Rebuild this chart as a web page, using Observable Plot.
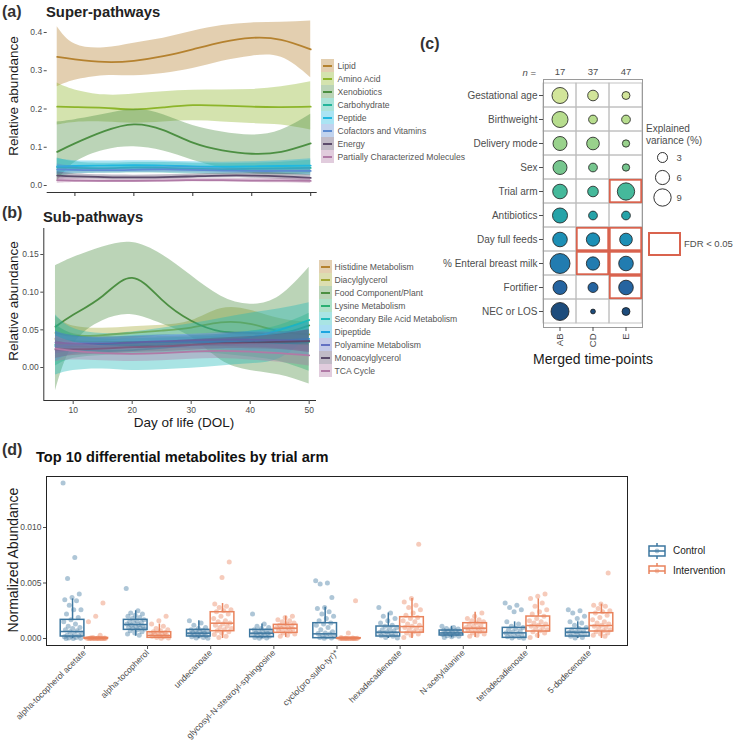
<!DOCTYPE html>
<html><head><meta charset="utf-8">
<script src="https://cdn.jsdelivr.net/npm/d3@7"></script>
<script src="https://cdn.jsdelivr.net/npm/@observablehq/plot@0.6"></script>
<style>
body{margin:0;background:#fff;}
#fig{position:relative;width:735px;height:753px;overflow:hidden;font-family:"Liberation Sans",Arial,Helvetica,sans-serif;background:#fff;}
#fig svg{position:absolute;left:0;top:0;}
.t{position:absolute;white-space:nowrap;line-height:1;}
</style></head><body><div id="fig"></div><script>
// ---------- DATA ----------
const dol = [7,10,15,20,25,30,35,40,45,50];
const dolTicks = [10,20,30,40,50];

const superNames = ["Lipid","Amino Acid","Xenobiotics","Carbohydrate","Peptide","Cofactors and Vitamins","Energy","Partially Characterized Molecules"];
const superColors = ["#B5822F","#8DB52A","#4C8F42","#23B59B","#20B8E0","#5B8BD2","#5B4B6B","#B07AA6"];
const superMean = [
 [.336,.330,.323,.326,.338,.356,.375,.386,.381,.356],
 [.206,.205,.203,.199,.204,.210,.209,.206,.205,.206],
 [.088,.110,.142,.160,.145,.112,.092,.083,.088,.110],
 [.048,.046,.045,.047,.046,.044,.043,.044,.045,.046],
 [.050,.051,.052,.053,.052,.050,.049,.050,.051,.052],
 [.042,.041,.040,.041,.042,.041,.039,.038,.038,.038],
 [.026,.024,.022,.021,.022,.024,.026,.026,.024,.020],
 [.014,.013,.012,.012,.013,.014,.014,.013,.013,.012]];
const superLo = [
 [.258,.275,.287,.287,.293,.306,.325,.338,.335,.282],
 [.158,.165,.166,.163,.166,.169,.166,.162,.158,.145],
 [.010,.060,.092,.101,.090,.066,.045,.031,.028,.031],
 [.022,.030,.032,.033,.032,.030,.029,.030,.029,.026],
 [.030,.037,.040,.041,.040,.038,.037,.038,.037,.034],
 [.028,.032,.033,.034,.034,.033,.032,.031,.030,.028],
 [.016,.017,.016,.015,.016,.018,.020,.019,.016,.012],
 [.006,.008,.008,.008,.009,.010,.009,.008,.007,.005]];
const superHi = [
 [.415,.370,.360,.372,.385,.403,.418,.425,.427,.430],
 [.268,.250,.237,.239,.245,.249,.250,.251,.258,.271],
 [.166,.172,.186,.199,.185,.157,.140,.132,.145,.186],
 [.072,.062,.058,.060,.060,.058,.057,.058,.061,.066],
 [.070,.065,.064,.065,.064,.062,.061,.062,.065,.070],
 [.056,.050,.047,.048,.050,.049,.046,.045,.046,.048],
 [.036,.031,.028,.027,.028,.030,.032,.033,.032,.028],
 [.022,.018,.016,.016,.017,.018,.019,.018,.019,.019]];

const subNames = ["Histidine Metabolism","Diacylglycerol","Food Component/Plant","Lysine Metabolism","Secondary Bile Acid Metabolism","Dipeptide","Polyamine Metabolism","Monoacylglycerol","TCA Cycle"];
const subColors = ["#B5822F","#A2A733","#4C8F42","#2AAF72","#1DB9B9","#1DA5E0","#6470C2","#5B4B6B","#B07AA6"];
const subMean = [
 [.038,.035,.034,.034,.034,.035,.036,.036,.036,.036],
 [.046,.042,.043,.046,.049,.053,.060,.058,.048,.044],
 [.054,.070,.095,.119,.090,.062,.048,.046,.045,.056],
 [.030,.028,.027,.028,.029,.030,.030,.031,.032,.034],
 [.030,.025,.022,.023,.026,.030,.035,.040,.050,.063],
 [.028,.030,.031,.033,.034,.034,.034,.035,.036,.038],
 [.033,.032,.032,.033,.035,.036,.037,.037,.036,.035],
 [.024,.024,.025,.027,.028,.030,.032,.033,.034,.035],
 [.025,.022,.019,.018,.019,.021,.022,.021,.019,.016]];
const subLo = [
 [.020,.026,.027,.027,.027,.028,.028,.027,.025,.022],
 [.024,.030,.034,.038,.042,.044,.045,.040,.032,.028],
 [-.031,.030,.062,.070,.058,.040,.010,-.004,-.010,-.022],
 [.002,.012,.016,.018,.019,.020,.018,.014,.008,-.005],
 [-.010,-.004,-.002,-.004,-.003,-.001,.002,.005,.012,.040],
 [.008,.018,.022,.024,.025,.025,.024,.022,.020,.015],
 [.018,.022,.024,.025,.027,.028,.028,.027,.025,.020],
 [.012,.016,.018,.020,.021,.023,.025,.025,.024,.020],
 [.008,.010,.009,.008,.009,.011,.012,.010,.007,.002]];
const subHi = [
 [.056,.045,.041,.041,.041,.042,.044,.045,.047,.050],
 [.068,.055,.052,.054,.056,.062,.078,.076,.065,.060],
 [.135,.146,.160,.166,.150,.122,.095,.084,.095,.133],
 [.058,.044,.038,.038,.039,.040,.042,.048,.056,.072],
 [.070,.052,.045,.047,.052,.058,.065,.072,.078,.086],
 [.048,.042,.040,.042,.043,.043,.044,.048,.052,.060],
 [.048,.042,.040,.041,.043,.044,.046,.047,.047,.050],
 [.036,.032,.032,.034,.035,.037,.039,.041,.044,.050],
 [.042,.034,.029,.028,.029,.031,.032,.032,.031,.030]];

// panel (c)
const cRows = ["Gestational age","Birthweight","Delivery mode","Sex","Trial arm","Antibiotics","Day full feeds","% Enteral breast milk","Fortifier","NEC or LOS"];
const cCols = ["AB","CD","E"];
const cN = [17,37,47];
const cRowColors = ["#D2E59A","#B7DD8E","#99D28C","#76C68E","#45B99B","#26A3A8","#1D8FB5","#227CB0","#2564A0","#1D4C7C"];
const cVarAB = [7.7,7.7,5.9,5.9,6.4,6.8,6.4,12.0,5.9,9.7];
const cVarCD = [3.4,2.3,4.8,2.3,3.4,2.3,5.3,5.3,3.0,0.7];
const cVarE  = [1.9,2.3,1.6,1.6,9.0,2.3,4.8,6.4,6.4,1.9];
const fdrRows = ["Trial arm","Day full feeds","Day full feeds","% Enteral breast milk","% Enteral breast milk","Fortifier"];
const fdrCols = ["E","CD","E","CD","E","E"];
const sizeBreaks = [3,6,9];

// panel (d)  (values in units of 0.001)
const dScale = 1e-3;
const dCats = ["alpha-tocopherol acetate","alpha-tocopherol","undecanoate","glycosyl-N-stearoyl-sphingosine","cyclo(pro-sulfo-tyr)*","hexadecadienoate","N-acetylalanine","tetradecadienoate","5-dodecenoate"];
const dGroups = ["Control","Intervention"];
const dColors = ["#3D77A0","#E9835C"];
const ctlQ1  = [.18,.78,.18,.12,.03,.18,.27,.06,.18];
const ctlMed = [.63,1.26,.48,.48,.42,.57,.50,.51,.57];
const ctlQ3  = [1.68,1.68,.78,.78,1.38,1.08,.72,.96,.87];
const ctlWlo = [0,.2,0,0,0,0,.05,0,0];
const ctlWhi = [3.57,2.5,1.6,1.3,2.82,2.3,1.1,1.5,1.5];
const intQ1  = [0,.06,.66,.51,0,.53,.53,.63,.63];
const intMed = [0,.27,1.38,.93,0,1.08,.93,1.17,1.17];
const intQ3  = [.05,.57,2.37,1.23,.03,1.92,1.38,1.98,2.28];
const intWlo = [0,0,0,.1,0,0,.1,0,0];
const intWhi = [.12,1.3,3.15,2.0,.07,3.6,2.37,3.57,3.1];
const ctlPts = [
 [14.0,7.3,5.4,4.0,3.7,3.5,3.4,3.0,2.6,2.6,2.2,1.9,1.7,1.5,1.3,1.1,1.0,0.9,0.8,0.7,0.6,0.5,0.4,0.3,0.25,0.2,0.15,0.1,0.05,0.02,0,0],
 [4.5,2.5,2.3,2.2,2.1,2.0,1.9,1.8,1.7,1.6,1.5,1.45,1.4,1.3,1.25,1.2,1.1,1.05,1.0,0.95,0.9,0.85,0.8,0.7,0.6,0.5,0.4,0.3],
 [1.6,1.4,1.2,1.0,0.9,0.8,0.75,0.7,0.65,0.6,0.55,0.5,0.45,0.4,0.35,0.3,0.25,0.2,0.15,0.1,0.05,0.02],
 [2.2,1.3,1.1,1.0,0.9,0.8,0.7,0.65,0.6,0.55,0.5,0.45,0.4,0.35,0.3,0.25,0.2,0.15,0.1,0.05,0.02],
 [5.2,5.0,4.9,3.7,2.8,2.7,2.4,2.2,2.0,1.8,1.6,1.4,1.3,1.2,1.0,0.8,0.6,0.5,0.45,0.4,0.3,0.2,0.15,0.1,0.05,0.02],
 [2.8,2.3,2.0,1.8,1.6,1.4,1.2,1.1,1.0,0.9,0.8,0.7,0.6,0.55,0.5,0.45,0.4,0.3,0.25,0.2,0.1,0.05],
 [1.1,1.0,0.9,0.85,0.8,0.75,0.7,0.65,0.6,0.55,0.5,0.45,0.4,0.35,0.3,0.25,0.2,0.15,0.1],
 [3.2,3.0,2.8,2.6,2.4,1.5,1.3,1.1,1.0,0.9,0.8,0.7,0.6,0.5,0.45,0.4,0.3,0.2,0.15,0.1,0.05,0.02],
 [2.6,2.5,2.3,2.0,1.8,1.5,1.4,1.2,1.0,0.9,0.8,0.7,0.6,0.55,0.5,0.45,0.4,0.3,0.2,0.1,0.05]];
const intPts = [
 [3.2,2.0,1.5,0.3,0.1,0.05,0.03,0.02,0.01,0,0,0,0,0,0,0,0,0,0.01,0.02,0.04],
 [2.0,1.6,1.3,1.1,0.9,0.8,0.7,0.6,0.55,0.5,0.45,0.4,0.35,0.3,0.25,0.2,0.15,0.1,0.05,0.02],
 [6.9,5.5,3.1,2.9,2.8,2.6,2.5,2.4,2.2,2.0,1.8,1.6,1.5,1.4,1.3,1.2,1.1,1.0,0.9,0.8,0.7,0.6,0.5,0.35,0.2,0.1],
 [2.0,1.9,1.7,1.6,1.5,1.4,1.3,1.2,1.15,1.1,1.0,0.95,0.9,0.85,0.8,0.7,0.6,0.5,0.4,0.3,0.2],
 [3.4,0.5,0.1,0.05,0.03,0.02,0.01,0,0,0,0,0,0,0,0,0,0.01,0.02],
 [8.5,3.6,3.3,3.0,2.8,2.6,2.3,2.1,1.9,1.8,1.6,1.5,1.3,1.2,1.1,1.0,0.9,0.8,0.7,0.6,0.5,0.4,0.3,0.1],
 [2.3,2.0,1.8,1.7,1.6,1.5,1.4,1.3,1.2,1.1,1.0,0.95,0.9,0.85,0.8,0.7,0.6,0.5,0.4,0.3,0.2],
 [4.0,3.8,3.6,3.2,2.9,2.6,2.4,2.2,2.0,1.8,1.6,1.5,1.4,1.3,1.2,1.1,1.0,0.9,0.8,0.7,0.6,0.5,0.3,0.1],
 [5.9,3.1,3.0,2.9,2.7,2.5,2.4,2.3,2.1,1.9,1.7,1.5,1.4,1.3,1.2,1.1,1.0,0.9,0.8,0.7,0.6,0.5,0.4,0.3,0.2]];

// ---------- LAYOUT ----------
const W = 735, H = 753;
const FONT = '"Liberation Sans", Arial, Helvetica, sans-serif';
const fig = document.getElementById("fig");
function overlay(o, size = 8.5, color = "#4d4d4d") {
  const svg = Plot.plot(Object.assign({width: W, height: H,
    style: {background: "transparent", fontFamily: FONT, fontSize: size + "px", color: color, overflow: "visible"}}, o));
  fig.appendChild(svg);
  return svg;
}
function txt(s, x, y, o = {}) {
  const e = document.createElement("div");
  e.className = "t";
  e.innerHTML = s;
  e.style.left = x + "px"; e.style.top = y + "px";
  e.style.fontSize = (o.size || 10) + "px";
  e.style.fontWeight = o.bold ? "bold" : "normal";
  e.style.color = o.color || "#1a1a1a";
  const ax = o.anchor === "middle" ? "-50%" : o.anchor === "end" ? "-100%" : "0";
  e.style.transform = `translate(${ax},-50%)` + (o.rotate ? ` rotate(${o.rotate}deg)` : "");
  fig.appendChild(e);
  return e;
}
function tidy(names, mean, lo, hi) {
  return names.flatMap((n, k) => dol.map((x, i) => ({name: n, dol: x, mean: mean[k][i], lo: lo[k][i], hi: hi[k][i]})));
}
function smoothMarks(names, colors, rows) {
  return names.flatMap((n, k) => {
    const r = rows.filter(d => d.name === n);
    return [
      Plot.areaY(r, {x: "dol", y1: "lo", y2: "hi", fill: colors[k], fillOpacity: 0.38, curve: "natural"}),
      Plot.lineY(r, {x: "dol", y: "mean", stroke: colors[k], strokeWidth: 1.8, curve: "natural"})
    ];
  });
}
function keyLegend(names, colors, left, right, top, bottom, dx) {
  overlay({
    marginLeft: left, marginRight: W - right, marginTop: top, marginBottom: H - bottom,
    x: {type: "band", domain: ["k"], padding: 0, axis: null},
    y: {type: "band", domain: names, padding: 0, axis: null},
    marks: [
      Plot.cell(names, {x: () => "k", y: d => d, fill: (d, i) => colors[i], fillOpacity: 0.38}),
      Plot.tickY(names, {x: () => "k", y: d => d, stroke: (d, i) => colors[i], strokeWidth: 2, insetLeft: 2, insetRight: 2}),
      Plot.text(names, {x: () => "k", y: d => d, text: d => d, textAnchor: "start", dx: dx, fill: "#555", fontSize: 8.6})
    ]
  });
}

// ---------- PANEL (a) ----------
const aX = [5.3, 51.1], aY = [-0.0183, 0.4366];
overlay({
  marginLeft: 46.7, marginRight: W - 316.7, marginTop: 18, marginBottom: H - 192,
  x: {domain: aX}, y: {domain: aY},
  marks: [
    ...smoothMarks(superNames, superColors, tidy(superNames, superMean, superLo, superHi)),
    Plot.ruleY([aY[0]], {stroke: "#333", strokeWidth: 1}),
    Plot.axisX({ticks: dolTicks, tickFormat: () => "", tickSize: 4, label: null, stroke: "#333"}),
    Plot.axisY({ticks: [0, .1, .2, .3, .4], tickFormat: d3.format(".1f"), tickSize: 3, tickPadding: 2, label: null})
  ]
});
keyLegend(superNames, superColors, 320.7, 334.3, 56.5, 165.8, 9.5);

// ---------- PANEL (b) ----------
const bX = [5.02, 51.24], bY = [-0.0438, 0.1845];
overlay({
  marginLeft: 43.3, marginRight: W - 316, marginTop: 228, marginBottom: H - 400,
  x: {domain: bX}, y: {domain: bY},
  marks: [
    ...smoothMarks(subNames, subColors, tidy(subNames, subMean, subLo, subHi)),
    Plot.ruleY([bY[0]], {stroke: "#333", strokeWidth: 1}),
    Plot.ruleX([bX[0]], {stroke: "#333", strokeWidth: 1}),
    Plot.axisX({ticks: dolTicks, tickSize: 4, tickPadding: 2, label: null}),
    Plot.axisY({ticks: [0, .05, .1, .15], tickFormat: d3.format(".2f"), tickSize: 3, tickPadding: 2, label: null})
  ]
});
keyLegend(subNames, subColors, 319.3, 332.6, 256.5, 379.6, 8.5);

// ---------- PANEL (c) ----------
const cData = cRows.flatMap((r, i) => [
  {row: r, col: "AB", v: cVarAB[i], color: cRowColors[i]},
  {row: r, col: "CD", v: cVarCD[i], color: cRowColors[i]},
  {row: r, col: "E",  v: cVarE[i],  color: cRowColors[i]}]);
const fdrData = fdrRows.map((r, i) => ({row: r, col: fdrCols[i]}));
const rScale = {type: "sqrt", domain: [0, 12], range: [0, 10]};
overlay({
  marginLeft: 543, marginRight: W - 642, marginTop: 79, marginBottom: H - 327,
  x: {type: "band", domain: cCols, padding: 0}, y: {type: "band", domain: cRows, padding: 0},
  r: rScale,
  marks: [
    Plot.cell(cData, {x: "col", y: "row", fill: "none", stroke: "#bdbdbd", strokeWidth: 0.9}),
    Plot.frame({stroke: "#9a9a9a"}),
    Plot.dot(cData, {x: "col", y: "row", r: "v", fill: "color", stroke: "#1a1a1a", strokeWidth: 0.8}),
    Plot.cell(fdrData, {x: "col", y: "row", fill: "none", stroke: "#D9634E", strokeWidth: 1.8, inset: 0.8}),
    Plot.axisY({tickSize: 4, tickPadding: 2, label: null, fontSize: 10}),
    Plot.axisX({anchor: "bottom", tickRotate: -90, tickSize: 4, tickPadding: 2, label: null, fontSize: 9.5}),
    Plot.axisX({anchor: "top", tickSize: 0, tickPadding: 5, tickFormat: d => cN[cCols.indexOf(d)], label: null, fontSize: 9.5})
  ]
}, 10);
// size legend
overlay({
  marginLeft: 655, marginRight: W - 669, marginTop: 147, marginBottom: H - 207,
  x: {type: "band", domain: ["k"], padding: 0, axis: null},
  y: {type: "band", domain: sizeBreaks.map(String), padding: 0, axis: null},
  r: rScale,
  marks: [
    Plot.dot(sizeBreaks, {x: () => "k", y: d => String(d), r: d => d, fill: "white", stroke: "#1a1a1a", strokeWidth: 0.9}),
    Plot.text(sizeBreaks, {x: () => "k", y: d => String(d), text: d => String(d), textAnchor: "start", dx: 14, fill: "#4d4d4d", fontSize: 9.5})
  ]
}, 9.5);

// ---------- PANEL (d) ----------
const dY = [-0.00063, 0.014595];
const half = 0.1875;
const boxes = dCats.flatMap((c, i) => [
  {i, g: "Control", x1: i - 2 * half, x2: i, xc: i - half, q1: ctlQ1[i] * dScale, med: ctlMed[i] * dScale, q3: ctlQ3[i] * dScale, wlo: ctlWlo[i] * dScale, whi: ctlWhi[i] * dScale},
  {i, g: "Intervention", x1: i, x2: i + 2 * half, xc: i + half, q1: intQ1[i] * dScale, med: intMed[i] * dScale, q3: intQ3[i] * dScale, wlo: intWlo[i] * dScale, whi: intWhi[i] * dScale}]);
const jit = j => (((j * 0.6180339887) % 1) - 0.5) * 0.3;
const pts = dCats.flatMap((c, i) => [
  ...ctlPts[i].map((v, j) => ({g: "Control", x: i - half + jit(j), v: v * dScale})),
  ...intPts[i].map((v, j) => ({g: "Intervention", x: i + half + jit(j + 3), v: v * dScale}))]);
overlay({
  marginLeft: 46, marginRight: W - 627, marginTop: 476, marginBottom: H - 645,
  x: {domain: [-0.6, 8.6]}, y: {domain: dY},
  color: {domain: dGroups, range: dColors},
  marks: [
    Plot.ruleX(boxes, {x: "xc", y1: "q3", y2: "whi", stroke: "g", strokeWidth: 1.5}),
    Plot.ruleX(boxes, {x: "xc", y1: "wlo", y2: "q1", stroke: "g", strokeWidth: 1.5}),
    Plot.rect(boxes, {x1: "x1", x2: "x2", y1: "q1", y2: "q3", stroke: "g", fill: "none", strokeWidth: 1.5}),
    Plot.ruleY(boxes, {y: "med", x1: "x1", x2: "x2", stroke: "g", strokeWidth: 1.5}),
    Plot.dot(pts, {x: "x", y: "v", fill: "g", fillOpacity: 0.42, r: 2.5}),
    Plot.frame({stroke: "#222", strokeWidth: 1}),
    Plot.axisY({ticks: [0, 0.005, 0.01], tickFormat: d3.format(".3f"), tickSize: 3, tickPadding: 2, label: null}),
    Plot.axisX({ticks: d3.range(dCats.length), tickFormat: i => dCats[i], tickRotate: -45, tickSize: 4, tickPadding: 2, label: null, fontSize: 8.6})
  ]
}, 8.5);
// legend (d)
{
  const svg = d3.select(fig).append("svg").attr("width", 24).attr("height", 44)
    .style("left", "645px").style("top", "530px");
  dGroups.forEach((g, k) => {
    const cy = 21 + k * 20, c = dColors[k];
    const gr = svg.append("g").attr("stroke", c).attr("stroke-width", 1.5).attr("fill", "none");
    gr.append("line").attr("x1", 12).attr("x2", 12).attr("y1", cy - 8).attr("y2", cy + 8);
    gr.append("rect").attr("x", 4).attr("y", cy - 5).attr("width", 16).attr("height", 10).attr("fill", "white");
    gr.append("line").attr("x1", 4).attr("x2", 20).attr("y1", cy).attr("y2", cy);
    svg.append("circle").attr("cx", 12).attr("cy", cy).attr("r", 2.4).attr("fill", c).attr("fill-opacity", 0.42);
  });
}

// ---------- TEXT ----------
txt("(a)", 2, 12, {bold: true, size: 16, color: "#333"});
txt("Super-pathways", 46, 12, {bold: true, size: 14.8, color: "#222"});
txt("Relative abundance", 14, 96, {size: 13.5, anchor: "middle", rotate: -90});
txt("(b)", 2, 213, {bold: true, size: 16, color: "#333"});
txt("Sub-pathways", 43, 217, {bold: true, size: 14.8, color: "#222"});
txt("Relative abundance", 14, 301, {size: 13.5, anchor: "middle", rotate: -90});
txt("Day of life (DOL)", 184, 423, {size: 13.5, anchor: "middle"});
txt("(c)", 420, 44, {bold: true, size: 16, color: "#333"});
txt("<i>n</i> =", 536, 73, {size: 9.5, anchor: "end", color: "#4d4d4d"});
txt("Merged time-points", 593, 359, {size: 14, anchor: "middle"});
txt("Explained", 646, 129, {size: 10, color: "#4d4d4d"});
txt("variance (%)", 646, 141, {size: 10, color: "#4d4d4d"});
{
  const b = document.createElement("div");
  b.style.cssText = "position:absolute;left:648px;top:232px;width:29px;height:20px;border:2px solid #D9634E;";
  fig.appendChild(b);
}
txt("FDR &lt; 0.05", 684, 244, {size: 9.5, color: "#4d4d4d"});
txt("(d)", 2, 450, {bold: true, size: 16, color: "#333"});
txt("Top 10 differential metabolites by trial arm", 36, 457, {bold: true, size: 14.6, color: "#111"});
txt("Normalized Abundance", 13, 560, {size: 14, anchor: "middle", rotate: -90});
txt("Control", 673, 551, {size: 10, color: "#222"});
txt("Intervention", 673, 571, {size: 10, color: "#222"});
</script></body></html>
